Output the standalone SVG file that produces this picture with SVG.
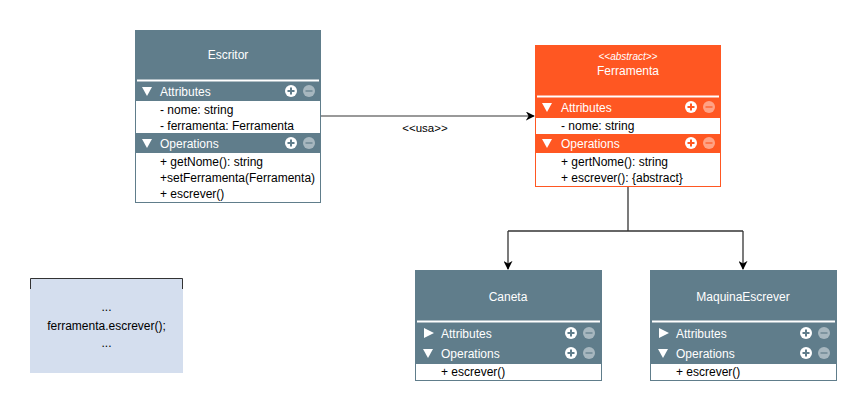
<svg xmlns="http://www.w3.org/2000/svg" width="866" height="410" viewBox="0 0 866 410">
<defs>
<style>
text{font-family:"Liberation Sans",Arial,sans-serif;font-size:12px}
.t{fill:#fff;text-anchor:middle}
.h{fill:#fff}
.b{fill:#000}
.sep{stroke:#fff;stroke-width:2}
.g{fill:#607D8B}
.o{fill:#FF5722}
.w{fill:#fff}
.conn{fill:none;stroke:#333;stroke-width:1.3}
</style>
<marker id="arr" viewBox="0 0 10 10" refX="9" refY="5" markerWidth="9" markerHeight="9" markerUnits="userSpaceOnUse" orient="auto">
<path d="M0,0 L10,5 L0,10 L3,5 Z" fill="#000"/>
</marker>
<g id="pm">
<circle cx="0" cy="0" r="6" fill="#fff"/>
<path d="M-3.5,0 H3.5 M0,-3.5 V3.5" stroke-width="2" stroke="#607D8B"/>
<circle cx="18" cy="0" r="6" fill="#fff" fill-opacity="0.45"/>
<path d="M14.5,0 H21.5" stroke-width="2" stroke="#607D8B" stroke-opacity="0.6"/>
</g>
<g id="pmo">
<circle cx="0" cy="0" r="6" fill="#fff"/>
<path d="M-3.5,0 H3.5 M0,-3.5 V3.5" stroke-width="2" stroke="#FF5722"/>
<circle cx="18" cy="0" r="6" fill="#fff" fill-opacity="0.45"/>
<path d="M14.5,0 H21.5" stroke-width="2" stroke="#FF5722" stroke-opacity="0.6"/>
</g>
<path id="down" d="M0,0 H10 L5,9 Z" fill="#fff"/>
<path id="right" d="M0,0 L10,5 L0,10 Z" fill="#fff"/>
</defs>

<g id="connectors">
<path class="conn" d="M321,116 H534" style="stroke:#777" marker-end="url(#arr)"/>
<text x="425" y="132" style="font-size:11.5px" text-anchor="middle" fill="#000">&lt;&lt;usa&gt;&gt;</text>
<path class="conn" d="M628,187 V231"/>
<path class="conn" d="M508,231 H743"/>
<path class="conn" d="M508,231 V269" marker-end="url(#arr)"/>
<path class="conn" d="M743,231 V269" marker-end="url(#arr)"/>
</g>

<g id="escritor">
<rect class="g" x="135" y="30" width="186" height="173"/>
<text class="t" x="228" y="59">Escritor</text>
<line class="sep" x1="137" y1="80.5" x2="319" y2="80.5"/>
<use href="#down" x="142" y="87"/>
<text class="h" x="160" y="96">Attributes</text>
<use href="#pm" x="291" y="91"/>
<rect class="w" x="136" y="101" width="184" height="32"/>
<text class="b" x="160" y="114">- nome: string</text>
<text class="b" x="160" y="130">- ferramenta: Ferramenta</text>
<use href="#down" x="142" y="139"/>
<text class="h" x="160" y="148">Operations</text>
<use href="#pm" x="291" y="143"/>
<rect class="w" x="136" y="153" width="184" height="49"/>
<text class="b" x="160" y="166">+ getNome(): string</text>
<text class="b" x="160" y="182">+setFerramenta(Ferramenta)</text>
<text class="b" x="160" y="198">+ escrever()</text>
</g>

<g id="ferramenta">
<rect class="o" x="535" y="45" width="186" height="142"/>
<text class="t" x="628" y="60" style="font-size:10px;font-style:italic">&lt;&lt;abstract&gt;&gt;</text>
<text class="t" x="628" y="75">Ferramenta</text>
<line class="sep" x1="537" y1="96.5" x2="719" y2="96.5"/>
<use href="#down" x="542" y="103"/>
<text class="h" x="561" y="112">Attributes</text>
<use href="#pmo" x="691" y="107"/>
<rect class="w" x="536" y="118" width="184" height="16"/>
<text class="b" x="561" y="130">- nome: string</text>
<use href="#down" x="542" y="139"/>
<text class="h" x="561" y="148">Operations</text>
<use href="#pmo" x="691" y="143"/>
<rect class="w" x="536" y="153" width="184" height="33"/>
<text class="b" x="561" y="166">+ gertNome(): string</text>
<text class="b" x="561" y="182">+ escrever(): {abstract}</text>
</g>

<g id="caneta">
<rect class="g" x="415" y="270" width="187" height="111"/>
<text class="t" x="508" y="301">Caneta</text>
<line class="sep" x1="417" y1="321.5" x2="600" y2="321.5"/>
<use href="#right" x="424" y="328"/>
<text class="h" x="441" y="338">Attributes</text>
<use href="#pm" x="571" y="333"/>
<use href="#down" x="423" y="349"/>
<text class="h" x="441" y="358">Operations</text>
<use href="#pm" x="571" y="353"/>
<rect class="w" x="416" y="364" width="185" height="16"/>
<text class="b" x="441" y="376">+ escrever()</text>
</g>

<g id="maquinaescrever">
<rect class="g" x="650" y="270" width="187" height="111"/>
<text class="t" x="743" y="301">MaquinaEscrever</text>
<line class="sep" x1="652" y1="321.5" x2="835" y2="321.5"/>
<use href="#right" x="659" y="328"/>
<text class="h" x="676" y="338">Attributes</text>
<use href="#pm" x="806" y="333"/>
<use href="#down" x="658" y="349"/>
<text class="h" x="676" y="358">Operations</text>
<use href="#pm" x="806" y="353"/>
<rect class="w" x="651" y="364" width="185" height="16"/>
<text class="b" x="676" y="376">+ escrever()</text>
</g>

<g id="note">
<rect x="30" y="278" width="153" height="95" fill="#D4DEEE"/>
<path d="M30.5,289 V278.5 H182.5 V289" fill="none" stroke="#333" stroke-width="1"/>
<text x="106.5" y="311" text-anchor="middle" fill="#000">...</text>
<text x="106.5" y="330" text-anchor="middle" fill="#000">ferramenta.escrever();</text>
<text x="106.5" y="347" text-anchor="middle" fill="#000">...</text>
</g>
</svg>
